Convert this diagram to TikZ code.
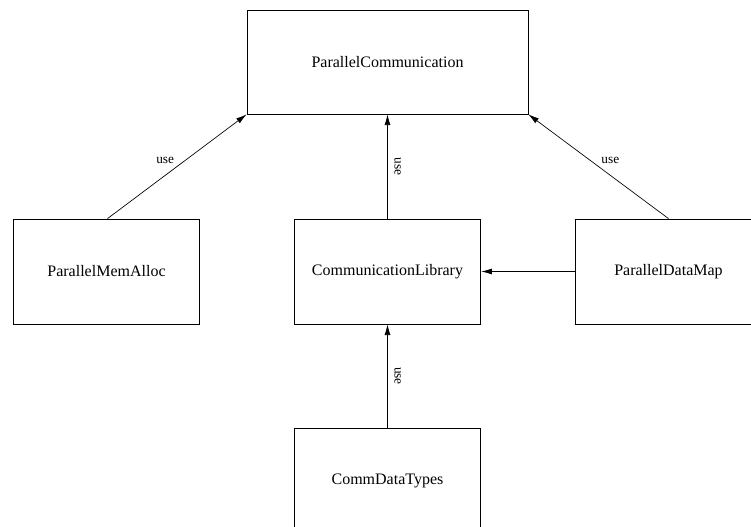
\documentclass[tikz,border=0pt]{standalone}
\usepackage{fontspec}
\setmainfont{Liberation Serif}
\usetikzlibrary{arrows.meta,positioning}

\begin{document}
\begin{tikzpicture}[
    x=0.75pt, y=-0.75pt,
    module/.style={rectangle, draw=black, line width=0.6pt, fill=white,
                   minimum width=140pt, minimum height=78.75pt, font=\fontsize{12}{14}\selectfont},
    topmodule/.style={module, minimum width=210.75pt, minimum height=78pt},
    uses/.style={-{Latex[length=8pt,width=4.5pt]}, line width=0.5pt},
    uselabel/.style={font=\fontsize{10}{12}\selectfont, inner sep=2pt}
]
    \useasboundingbox (0,0) rectangle (751,527);

    \node[topmodule] (pcomm)   at (387.5,62)  {ParallelCommunication};
    \node[module]    (pmem)    at (106.5,271.5) {ParallelMemAlloc};
    \node[module]    (clib)    at (387.5,271.5) {CommunicationLibrary};
    \node[module]    (pdmap)   at (668.5,271.5) {ParallelDataMap};
    \node[module]    (cdtypes) at (387.5,480.5) {CommDataTypes};

    \coordinate (pmemtop)  at ([xshift=0.75pt]pmem.north);
    \coordinate (pdmaptop) at (pdmap.north);

    \draw[uses] (pmemtop) -- (pcomm.south west)
        node[uselabel, pos=0.5, above left] {use};
    \draw[uses] (clib.north) -- (pcomm.south)
        node[uselabel, pos=0.5, anchor=south, rotate=-90, yshift=3pt] {use};
    \draw[uses] (pdmaptop) -- (pcomm.south east)
        node[uselabel, pos=0.5, above right] {use};
    \draw[uses] (pdmap.west) -- (clib.east);
    \draw[uses] (cdtypes.north) -- (clib.south)
        node[uselabel, pos=0.5, anchor=south, rotate=-90, yshift=3pt] {use};
\end{tikzpicture}
\end{document}
